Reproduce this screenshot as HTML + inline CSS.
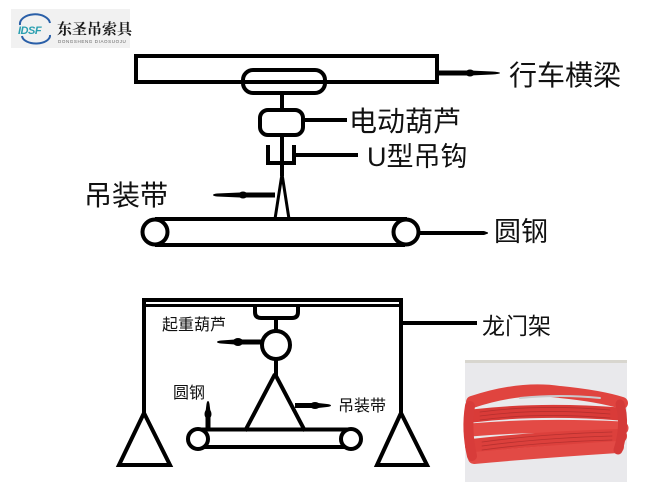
<!DOCTYPE html>
<html><head><meta charset="utf-8"><style>
html,body{margin:0;padding:0;background:#fff;}
svg{display:block;}
text{font-family:"Liberation Sans","Noto Sans CJK SC",sans-serif;fill:#111;}
</style></head><body>
<svg width="660" height="494" viewBox="0 0 660 494" xmlns="http://www.w3.org/2000/svg">
<rect width="660" height="494" fill="#fff"/>
<!-- logo -->
<rect x="11" y="9" width="119" height="39" fill="#f1f1f1"/>
<path d="M20 25 A14 9 0 0 1 50 23" fill="none" stroke="#2a5fa8" stroke-width="2"/>
<path d="M22 36 A14 8 0 0 0 50 35" fill="none" stroke="#2a5fa8" stroke-width="2"/>
<text x="18" y="34" style="font-family:'Liberation Sans',sans-serif;font-size:11px;font-weight:bold;font-style:italic;fill:#2a9fb0;letter-spacing:-0.5px">IDSF</text>
<text x="57" y="34" style="font-family:'Liberation Serif','Noto Serif CJK SC',serif;font-size:15px;font-weight:bold;fill:#1a1a1a">东圣吊索具</text>
<text x="58" y="43" style="font-size:4.5px;fill:#666;letter-spacing:0.6px">DONGSHENG DIAOSUOJU</text>

<g fill="none" stroke="#000" stroke-width="4" stroke-linecap="butt">
<!-- top diagram -->
<rect x="136" y="56" width="301" height="26"/>
<rect x="243" y="70" width="82" height="23" rx="10"/>
<line x1="282" y1="93" x2="282" y2="110"/>
<rect x="260" y="110" width="43" height="25" rx="8"/>
<line x1="303" y1="120" x2="347" y2="120"/>
<line x1="282" y1="135" x2="282" y2="176"/>
<path d="M268 145 V163 H294 V145"/>
<line x1="294" y1="155" x2="358" y2="155"/>
<path d="M282 174 L275 219 M282 174 L289 219" stroke-width="3"/>
<line x1="155" y1="219" x2="407" y2="219"/>
<line x1="155" y1="245" x2="405" y2="245"/>
<circle cx="155" cy="232" r="12.5" fill="#fff"/>
<circle cx="406" cy="232" r="12.5" fill="#fff"/>
<line x1="419" y1="233" x2="484" y2="233"/>
<line x1="439" y1="73" x2="470" y2="73" stroke-width="5"/>

<!-- bottom diagram -->
<line x1="142" y1="300" x2="403" y2="300"/>
<line x1="144" y1="305.5" x2="403" y2="305.5" stroke-width="3"/>
<line x1="144" y1="298" x2="144" y2="414"/>
<line x1="401" y1="298" x2="401" y2="414"/>
<path d="M144 413 L119 465 L170 465 Z"/>
<path d="M401 413 L377 465 L427 465 Z"/>
<path d="M255 305 V312 Q255 318 261 318 H292 Q298 318 298 312 V305"/>
<line x1="276" y1="318" x2="276" y2="331"/>
<circle cx="276" cy="345" r="14"/>
<line x1="276" y1="359" x2="276" y2="376"/>
<path d="M275 374 L245 431 M275 374 L305 431"/>
<line x1="198" y1="429.5" x2="351" y2="429.5"/>
<line x1="198" y1="447" x2="351" y2="447"/>
<circle cx="198" cy="439" r="10" fill="#fff"/>
<circle cx="351" cy="439" r="10" fill="#fff"/>
<line x1="401" y1="323" x2="477" y2="323"/>
</g>

<!-- tapered arrows -->
<g fill="#000">
<path d="M470 70.5 L492 71.5 Q500 72 500 73 Q500 74 492 74.5 L470 75.5 Z"/>
<ellipse cx="470" cy="73" rx="4.5" ry="3.5"/>
<path d="M484 231 L488 232.5 L488 233.5 L484 235 Z"/>
<path d="M275 192.5 L240 192.5 L217 193.5 Q213 194 213 195 Q213 196 217 196.5 L240 197.5 L275 197.5 Z"/>
<ellipse cx="243" cy="195" rx="4.5" ry="3.5"/>
<path d="M262 339.5 L235 339.5 L221 340.5 Q217 341 217 342 Q217 343 221 343.5 L235 344.5 L262 344.5 Z"/>
<ellipse cx="238" cy="342" rx="5" ry="4"/>
<path d="M205.5 428 L205.5 412 L206.5 404 Q207 401 208 401 Q209 401 209.5 404 L210.5 412 L210.5 428 Z"/>
<ellipse cx="208" cy="414" rx="3.5" ry="5"/>
<path d="M295 403 L318 403 L327 404 Q331 404.5 331 405.5 Q331 406.5 327 407 L318 408 L295 408 Z"/>
<ellipse cx="315" cy="405.5" rx="5" ry="3.5"/>
</g>

<!-- labels -->
<text x="509" y="85" style="font-size:28px">行车横梁</text>
<text x="349" y="131" style="font-size:28px">电动葫芦</text>
<text x="367" y="166" style="font-size:27px">U型吊钩</text>
<text x="84" y="205" style="font-size:28px">吊装带</text>
<text x="494" y="241" style="font-size:27px">圆钢</text>
<text x="482" y="334" style="font-size:23px">龙门架</text>
<text x="162" y="330" style="font-size:16px">起重葫芦</text>
<text x="173" y="398" style="font-size:16px">圆钢</text>
<text x="338" y="411" style="font-size:16px">吊装带</text>

<!-- photo -->
<rect x="465" y="360" width="162" height="122" fill="#e9e9ec"/>
<rect x="465" y="360" width="162" height="3" fill="#d8d6cf"/>
<g stroke-linecap="round" fill="none">
<path d="M472 402 Q520 386 560 392 Q600 396 622 403" stroke="#e0443f" stroke-width="12"/>
<path d="M472 416 Q540 408 620 414" stroke="#d93b38" stroke-width="13"/>
<path d="M470 430 Q540 424 622 428" stroke="#e34a45" stroke-width="13"/>
<path d="M472 446 Q540 438 620 436" stroke="#dc403c" stroke-width="14"/>
<path d="M474 458 Q540 452 618 447" stroke="#e24a45" stroke-width="12"/>
<path d="M470 406 Q466 430 472 456" stroke="#d83c3a" stroke-width="10"/>
<path d="M620 404 Q626 425 618 450" stroke="#d43a38" stroke-width="9"/>
<g stroke="#a82a2a" stroke-width="0.8" opacity="0.7">
<path d="M480 412 Q540 404 610 410"/>
<path d="M480 416 Q540 408 610 414"/>
<path d="M480 420 Q540 412 610 418"/>
<path d="M482 442 Q540 434 612 432"/>
<path d="M482 446 Q540 438 612 436"/>
<path d="M482 450 Q540 442 612 440"/>
</g>
<path d="M520 398 Q560 394 600 398" stroke="#c9c9cc" stroke-width="2"/>
</g>
</svg>
</body></html>
